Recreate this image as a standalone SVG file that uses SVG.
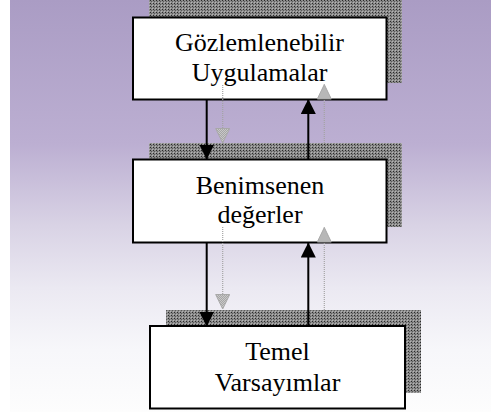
<svg xmlns="http://www.w3.org/2000/svg" width="491" height="412" viewBox="0 0 491 412">
  <defs>
    <linearGradient id="bg" x1="0" y1="0" x2="0" y2="1">
      <stop offset="0" stop-color="#aa9cc4"/>
      <stop offset="0.35" stop-color="#bcafd2"/>
      <stop offset="0.55" stop-color="#d9d3e5"/>
      <stop offset="0.7" stop-color="#ebe9f2"/>
      <stop offset="0.85" stop-color="#f7f7fa"/>
      <stop offset="1" stop-color="#fdfdfd"/>
    </linearGradient>
    <pattern id="dots" width="3" height="3" patternUnits="userSpaceOnUse">
      <rect width="3" height="3" fill="#8c8c8c"/>
      <rect width="1" height="1" fill="#2a2a2a"/>
      <rect x="1" y="1" width="1" height="1" fill="#5a5a5a"/>
      <rect x="2" y="2" width="1" height="1" fill="#b4b4b4"/>
    </pattern>
    <pattern id="lightdots" width="2" height="2" patternUnits="userSpaceOnUse">
      <rect width="2" height="2" fill="#d4d4d4"/>
      <rect width="1" height="1" fill="#9a9a9a"/>
      <rect x="1" y="1" width="1" height="1" fill="#9a9a9a"/>
    </pattern>
    <marker id="ah" markerUnits="userSpaceOnUse" markerWidth="15" markerHeight="15" refX="15" refY="7.5" orient="auto">
      <path d="M0,0 L15,7.5 L0,15 Z" fill="#000"/>
    </marker>
    <marker id="gah" markerUnits="userSpaceOnUse" markerWidth="16" markerHeight="16" refX="15" refY="7.5" orient="auto">
      <path d="M0.5,0.5 L15,7.5 L0.5,14.5 Z" fill="url(#lightdots)" stroke="#a8a8a8" stroke-width="1"/>
    </marker>
    <style>
      .shadow { fill: url(#dots); }
      .box { fill: #ffffff; stroke: #000000; stroke-width: 2; }
      .lbl { font-family: "Liberation Serif", "Times New Roman", serif; font-size: 26px; fill: #000; text-anchor: middle; }
      .arr { stroke: #000; stroke-width: 2; fill: none; marker-end: url(#ah); }
      .garr { stroke: #a4a4a4; stroke-width: 1.2; stroke-dasharray: 1 1; fill: none; marker-end: url(#gah); }
    </style>
  </defs>

  <rect x="0" y="0" width="491" height="412" fill="#ffffff"/>
  <rect x="10" y="0" width="481" height="412" fill="url(#bg)"/>

  <g id="node-gozlemlenebilir">
    <rect class="shadow" x="149" y="0" width="253" height="83"/>
    <rect class="box" x="133" y="17.5" width="253.5" height="82"/>
    <text class="lbl" x="259.5" y="51">Gözlemlenebilir</text>
    <text class="lbl" x="259.5" y="80.5">Uygulamalar</text>
  </g>

  <g id="node-benimsenen">
    <rect class="shadow" x="149" y="143" width="253" height="84"/>
    <rect class="box" x="133" y="159.5" width="253.5" height="83"/>
    <text class="lbl" x="260" y="194">Benimsenen</text>
    <text class="lbl" x="260" y="223">değerler</text>
  </g>

  <g id="node-temel">
    <rect class="shadow" x="166" y="310" width="255" height="83"/>
    <rect class="box" x="150" y="326" width="255" height="82.5"/>
    <text class="lbl" x="277.5" y="360">Temel</text>
    <text class="lbl" x="277.5" y="390.5">Varsayımlar</text>
  </g>

  <g id="connectors">
    <line class="garr" x1="222.7" y1="85" x2="222.7" y2="143"/>
    <line class="garr" x1="324.3" y1="143" x2="324.3" y2="84.5"/>
    <line class="garr" x1="222.7" y1="227" x2="222.7" y2="309"/>
    <line class="garr" x1="324.3" y1="310" x2="324.3" y2="227.5"/>
    <line class="arr" x1="206.7" y1="100" x2="206.7" y2="159.5"/>
    <line class="arr" x1="308.3" y1="159" x2="308.3" y2="99"/>
    <line class="arr" x1="206.7" y1="243" x2="206.7" y2="326.5"/>
    <line class="arr" x1="308.3" y1="326" x2="308.3" y2="242.5"/>
  </g>
</svg>
